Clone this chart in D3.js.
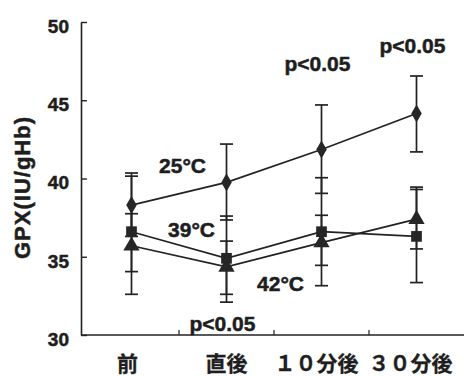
<!DOCTYPE html>
<html>
<head>
<meta charset="utf-8">
<script src="https://cdn.jsdelivr.net/npm/d3@7"></script>
<style>
  body { margin: 0; background: #fff; }
  svg { display: block; }
  text { fill: #1e1e1e; stroke: #1e1e1e; stroke-width: 0.5px; font-family: "Liberation Sans", Arial, sans-serif; font-weight: bold; }
</style>
</head>
<body>
<svg id="chart" width="464" height="376"></svg>
<script>
const categories = ["前", "直後", "１０分後", "３０分後"]
const yTicks = [30, 35, 40, 45, 50]

// 25°C (diamond)
const mean25 = [38.3, 39.75, 41.85, 44.15]
const upper25 = [40.35, 42.2, 44.7, 46.55]
const lower25 = [36.3, 37.35, 39.05, 41.7]
// 39°C (square)
const mean39 = [36.6, 34.9, 36.6, 36.3]
const upper39 = [40.15, 37.6, 40.05, 39.3]
const lower39 = [32.6, 32.1, 33.15, 33.35]
// 42°C (triangle)
const mean42 = [35.7, 34.35, 35.9, 37.4]
const upper42 = [37.75, 36.0, 37.65, 39.45]
const lower42 = [34.05, 32.6, 34.45, 35.5]

const series = [
  {name: "42°C", symbol: d3.symbolTriangle, size: 115, mean: mean42, upper: upper42, lower: lower42},
  {name: "39°C", symbol: d3.symbolSquare, size: 115, mean: mean39, upper: upper39, lower: lower39},
  {name: "25°C", symbol: d3.symbolDiamond, size: 95, mean: mean25, upper: upper25, lower: lower25}
]

const svg = d3.select("#chart")
const axisX = 81

const x = d3.scaleBand().domain(categories).range([84, 464])
const y = d3.scaleLinear().domain([30, 50]).range([335, 22])
const cx = c => x(c) + x.bandwidth() / 2

// y axis, ticks pointing inward
const yAxis = svg.append("g")
  .attr("transform", `translate(${axisX},0)`)
  .call(d3.axisLeft(y).tickValues(yTicks).tickSizeInner(-6).tickSizeOuter(0).tickPadding(12))
yAxis.select(".domain").attr("stroke", "#222").attr("stroke-width", 1.6)
yAxis.selectAll(".tick line").attr("stroke", "#222").attr("stroke-width", 1.4)
yAxis.selectAll(".tick text").attr("dy", "0.55em").style("font-size", "19px")

// x axis with ticks on band boundaries
svg.append("line")
  .attr("x1", axisX).attr("x2", 464)
  .attr("y1", y(30)).attr("y2", y(30))
  .attr("stroke", "#222").attr("stroke-width", 1.6)
svg.selectAll("line.xtick").data(categories.slice(1)).enter().append("line")
  .attr("class", "xtick")
  .attr("x1", d => x(d)).attr("x2", d => x(d))
  .attr("y1", y(30)).attr("y2", y(30) - 5)
  .attr("stroke", "#222").attr("stroke-width", 1.2)

svg.selectAll("text.xlab").data(categories).enter().append("text")
  .attr("class", "xlab")
  .attr("x", (d, i) => cx(d) - [4, 0, 5, 6][i])
  .attr("y", 371)
  .attr("text-anchor", "middle")
  .style("font-family", "'Noto Sans CJK JP', sans-serif")
  .style("font-size", "21px")
  .style("stroke-width", "0.3px")
  .text(d => d)

svg.append("text")
  .attr("transform", `translate(30,${188}) rotate(-90)`)
  .attr("text-anchor", "middle")
  .attr("textLength", 142)
  .style("font-size", "22px")
  .text("GPX(IU/gHb)")

// lines
const line = d3.line().x((d, i) => cx(categories[i])).y(d => y(d))
series.forEach(s => {
  svg.append("path")
    .attr("d", line(s.mean))
    .attr("fill", "none").attr("stroke", "#222").attr("stroke-width", 1.7)
})

// error bars
series.forEach(s => {
  const g = svg.append("g").attr("stroke", "#222")
  categories.forEach((c, i) => {
    g.append("line")
      .attr("x1", cx(c)).attr("x2", cx(c))
      .attr("y1", y(s.upper[i])).attr("y2", y(s.lower[i]))
      .attr("stroke-width", 1.7)
    ;[s.upper[i], s.lower[i]].forEach(v => {
      g.append("line")
        .attr("x1", cx(c) - 6.5).attr("x2", cx(c) + 6.5)
        .attr("y1", y(v)).attr("y2", y(v))
        .attr("stroke-width", 1.7)
    })
  })
})

// markers
series.forEach(s => {
  svg.selectAll(null).data(s.mean).enter().append("path")
    .attr("transform", (d, i) => `translate(${cx(categories[i])},${y(d)})`)
    .attr("d", d3.symbol().type(s.symbol).size(s.size))
    .attr("fill", "#262626")
})

// annotations
const labels = [
  {text: "25°C", cat: "前", dx: 51, v: 40.35},
  {text: "39°C", cat: "前", dx: 60, v: 36.25},
  {text: "42°C", cat: "直後", dx: 54, v: 32.8},
  {text: "p<0.05", cat: "１０分後", dx: -4, v: 46.9},
  {text: "p<0.05", cat: "３０分後", dx: -4, v: 48.05},
  {text: "p<0.05", cat: "直後", dx: -4, v: 30.25}
]
svg.selectAll("text.ann").data(labels).enter().append("text")
  .attr("class", "ann")
  .attr("x", d => cx(d.cat) + d.dx)
  .attr("y", d => y(d.v))
  .attr("text-anchor", "middle")
  .style("font-size", "21px")
  .text(d => d.text)
</script>
</body>
</html>
